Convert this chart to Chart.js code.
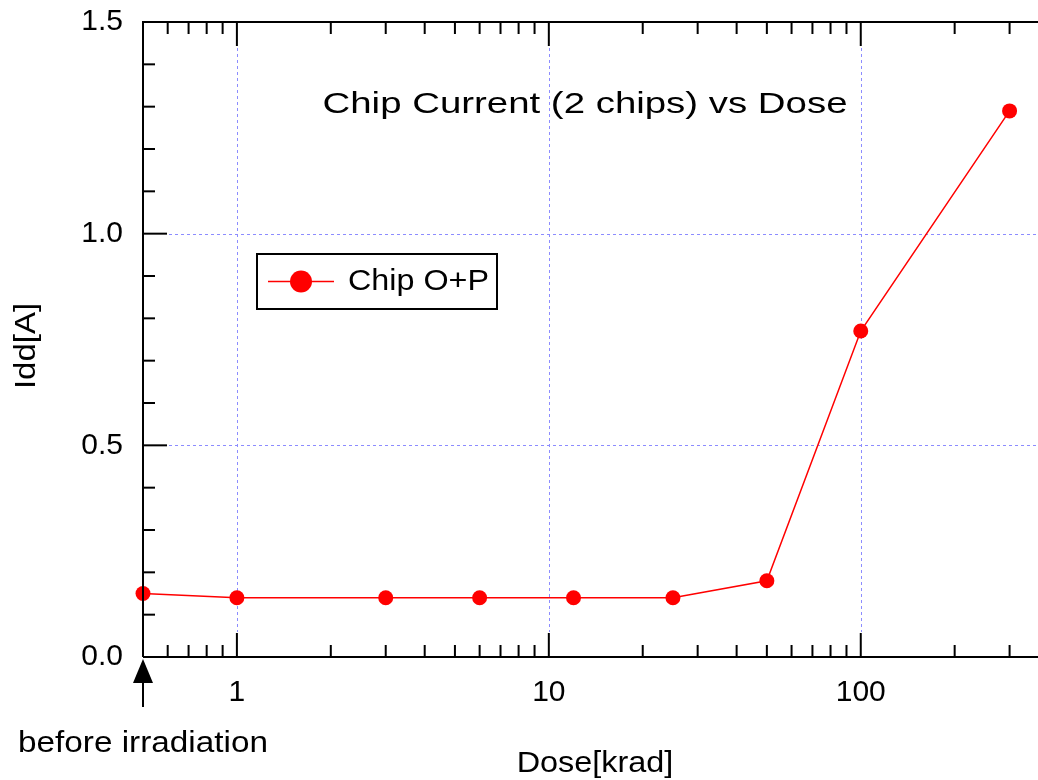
<!DOCTYPE html>
<html>
<head>
<meta charset="utf-8">
<script src="https://cdn.jsdelivr.net/npm/chart.js@4/dist/chart.umd.min.js"></script>
<style>
  html, body { margin: 0; padding: 0; background: #fff; }
  #wrap { width: 1038px; height: 780px; }
</style>
</head>
<body>
<div id="wrap"><canvas id="c" width="1038" height="780"></canvas></div>
<script>
// Dose steps (krad); 0.5 is the "before irradiation" reading on the left axis
const doses = [0.5, 1, 3, 6, 12, 25, 50, 100, 300];
// Supply current Idd [A] for chips O+P
const currents = [0.15, 0.14, 0.14, 0.14, 0.14, 0.14, 0.18, 0.77, 1.29];
const xMajorTicks = [1, 10, 100];
const yMajorTicks = [0, 0.5, 1.0, 1.5];
const yMinorStep = 0.1;

const FONT = "Arial, 'Liberation Sans', sans-serif";
const RED = '#ff0000';

// minor log ticks (2..9 per decade) within the axis range
function logMinorTicks(min, max) {
  const out = [];
  for (let d = Math.floor(Math.log10(min)); d <= Math.ceil(Math.log10(max)); d++) {
    const base = Math.pow(10, d);
    for (let m = 2; m <= 9; m++) {
      const v = m * base;
      if (v > min + 1e-9 && v < max - 1e-9) out.push(v);
    }
  }
  return out;
}

// text drawn with a slightly widened face, anchored per textAlign
function wideText(ctx, text, x, y, widen) {
  ctx.save();
  ctx.translate(x, y);
  ctx.scale(widen, 1);
  ctx.fillText(text, 0, 0);
  ctx.restore();
}

function noScalePadding(s) {
  s.paddingTop = 0; s.paddingBottom = 0; s.paddingLeft = 0; s.paddingRight = 0;
}

const decorations = {
  id: 'decorations',
  beforeDatasetsDraw(chart) {
    const { ctx, chartArea: a, scales: { x, y } } = chart;
    const major = 24;
    ctx.save();
    // dotted grid
    ctx.strokeStyle = '#8c8cff';
    ctx.lineWidth = 1;
    ctx.setLineDash([3, 3]);
    xMajorTicks.forEach(v => {
      const px = Math.round(x.getPixelForValue(v)) + 0.5;
      ctx.beginPath();
      ctx.moveTo(px, a.top + major + 2);
      ctx.lineTo(px, a.bottom - major - 1);
      ctx.stroke();
    });
    yMajorTicks.forEach(v => {
      if (v <= y.min || v >= y.max) return;
      const py = Math.round(y.getPixelForValue(v)) + 0.5;
      ctx.beginPath();
      ctx.moveTo(a.left + major + 2, py);
      ctx.lineTo(a.right, py);
      ctx.stroke();
    });
    ctx.restore();
  },
  afterDraw(chart) {
    const { ctx, chartArea: a, scales: { x, y } } = chart;
    const major = 24, minor = 12;
    ctx.save();
    ctx.strokeStyle = '#000';
    ctx.fillStyle = '#000';
    ctx.lineWidth = 2;
    ctx.setLineDash([]);

    // frame: left, top, bottom
    ctx.beginPath();
    ctx.moveTo(a.left, a.bottom);
    ctx.lineTo(a.left, a.top);
    ctx.lineTo(a.right, a.top);
    ctx.moveTo(a.left, a.bottom);
    ctx.lineTo(a.right, a.bottom);
    ctx.stroke();

    // x ticks (bottom and top, pointing inward)
    const drawX = (v, len) => {
      const px = x.getPixelForValue(v);
      ctx.beginPath();
      ctx.moveTo(px, a.bottom);
      ctx.lineTo(px, a.bottom - len);
      ctx.moveTo(px, a.top);
      ctx.lineTo(px, a.top + len);
      ctx.stroke();
    };
    logMinorTicks(x.min, x.max).forEach(v => {
      if (!xMajorTicks.includes(v)) drawX(v, minor);
    });
    xMajorTicks.forEach(v => drawX(v, major));

    // y ticks on the left axis
    const nMinor = Math.round((y.max - y.min) / yMinorStep);
    for (let i = 1; i < nMinor; i++) {
      const v = y.min + i * yMinorStep;
      const isMajor = yMajorTicks.some(t => Math.abs(t - v) < 1e-6);
      const py = y.getPixelForValue(v);
      ctx.beginPath();
      ctx.moveTo(a.left, py);
      ctx.lineTo(a.left + (isMajor ? major : minor), py);
      ctx.stroke();
    }

    // "before irradiation" marker below the axis origin
    const ax = x.getPixelForValue(doses[0]);
    ctx.beginPath();
    ctx.moveTo(ax, a.bottom + 2);
    ctx.lineTo(ax - 10, a.bottom + 26);
    ctx.lineTo(ax + 10, a.bottom + 26);
    ctx.closePath();
    ctx.fill();
    ctx.beginPath();
    ctx.moveTo(ax, a.bottom + 26);
    ctx.lineTo(ax, a.bottom + 50);
    ctx.stroke();

    ctx.font = '30px ' + FONT;
    ctx.textAlign = 'center';
    ctx.textBaseline = 'alphabetic';
    wideText(ctx, 'before irradiation', ax, 752, 1.11);

    // axis titles
    wideText(ctx, 'Dose[krad]', 595, 772, 1.08);
    ctx.save();
    ctx.translate(35, 346);
    ctx.rotate(-Math.PI / 2);
    wideText(ctx, 'Idd[A]', 0, 0, 1.1);
    ctx.restore();

    // chart title inside the plot
    wideText(ctx, 'Chip Current (2 chips) vs Dose', 585, 113, 1.28);

    // legend box
    const lx = 257, ly = 254, lw = 240, lh = 55;
    ctx.lineWidth = 2;
    ctx.strokeStyle = '#000';
    ctx.strokeRect(lx, ly, lw, lh);
    const cy = ly + lh / 2;
    ctx.strokeStyle = RED;
    ctx.lineWidth = 1.5;
    ctx.beginPath();
    ctx.moveTo(lx + 11, cy);
    ctx.lineTo(lx + 77, cy);
    ctx.stroke();
    ctx.fillStyle = RED;
    ctx.beginPath();
    ctx.arc(lx + 44, cy, 11, 0, Math.PI * 2);
    ctx.fill();
    ctx.fillStyle = '#000';
    ctx.textAlign = 'left';
    wideText(ctx, 'Chip O+P', lx + 91, 290, 1.077);
    ctx.restore();
  }
};

new Chart(document.getElementById('c'), {
  type: 'line',
  data: {
    datasets: [{
      label: 'Chip O+P',
      data: doses.map((d, i) => ({ x: d, y: currents[i] })),
      borderColor: RED,
      backgroundColor: RED,
      borderWidth: 1.5,
      pointRadius: 7.5,
      pointHoverRadius: 7.5,
      pointBorderWidth: 0,
      tension: 0,
      clip: false
    }]
  },
  options: {
    responsive: false,
    animation: false,
    events: [],
    layout: { autoPadding: false, padding: { top: 22, right: 0, left: 0, bottom: 0 } },
    plugins: { legend: { display: false }, tooltip: { enabled: false }, title: { display: false } },
    scales: {
      x: {
        type: 'logarithmic',
        min: 0.5,
        max: 370,
        grid: { display: false, drawTicks: false },
        border: { display: false },
        afterBuildTicks: s => { s.ticks = xMajorTicks.map(v => ({ value: v })); },
        afterFit: s => { s.height = 123; noScalePadding(s); },
        ticks: {
          autoSkip: false,
          maxRotation: 0,
          color: '#000',
          padding: 18,
          font: { family: FONT, size: 30 },
          callback: v => String(v)
        }
      },
      y: {
        type: 'linear',
        min: 0,
        max: 1.5,
        grid: { display: false, drawTicks: false },
        border: { display: false },
        afterBuildTicks: s => { s.ticks = yMajorTicks.map(v => ({ value: v })); },
        afterFit: s => { s.width = 143; noScalePadding(s); },
        ticks: {
          color: '#000',
          padding: 20,
          font: { family: FONT, size: 30 },
          callback: v => Number(v).toFixed(1)
        }
      }
    }
  },
  plugins: [decorations]
});
</script>
</body>
</html>
